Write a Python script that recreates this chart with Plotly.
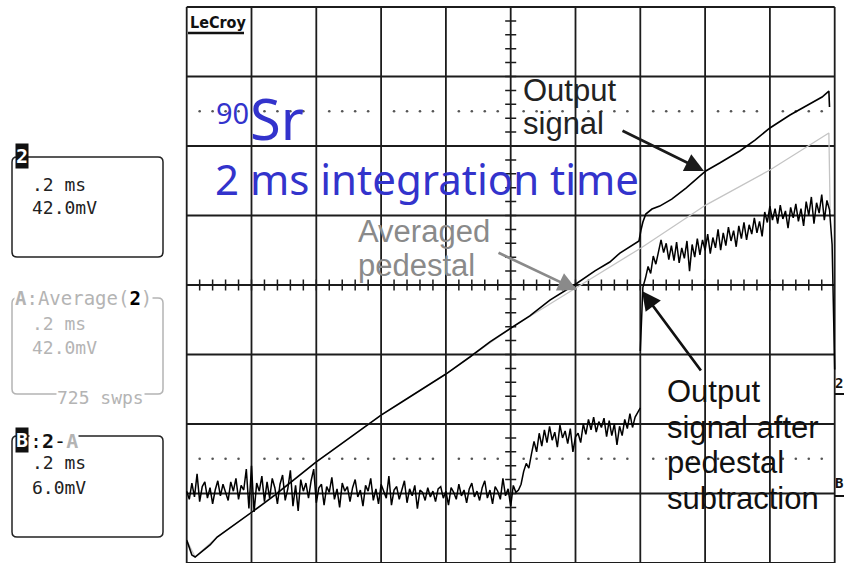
import numpy as np
import plotly.graph_objects as go

# ---------------- data ----------------
# Channel 2 "Output signal" (42 mV/div), time in ms (0.2 ms/div)
out_t = [0.000, 0.009, 0.016, 0.026, 0.041, 0.072, 0.094, 0.134, 0.165, 0.198,
         0.232, 0.273, 0.319, 0.359, 0.399, 0.443, 0.489, 0.535, 0.600, 0.659,
         0.720, 0.800, 0.874, 0.936, 1.001, 1.059, 1.121, 1.201, 1.260, 1.306,
         1.337, 1.368, 1.396, 1.402, 1.408, 1.417, 1.436, 1.460, 1.497, 1.541,
         1.602, 1.645, 1.707, 1.754, 1.800, 1.862, 1.924, 1.961, 1.982, 1.984]
out_mv = [-91.1, -95.9, -100.2, -101.4, -99.0, -94.1, -89.3, -83.8, -79.6, -74.8,
          -69.9, -63.9, -56.7, -50.6, -44.0, -37.9, -31.3, -24.6, -15.6, -8.3,
          -0.5, 9.2, 19.5, 28.6, 37.0, 44.3, 53.9, 63.6, 71.5, 76.9,
          82.3, 86.0, 89.6, 96.2, 101.1, 105.9, 108.9, 110.7, 114.9, 121.6,
          131.9, 136.7, 144.0, 150.6, 157.9, 165.7, 172.4, 176.6, 180.2, 170.6]

# Trace A: averaged pedestal, Average(2), 725 sweeps (42 mV/div)
ped_t = [0.000, 0.026, 0.094, 0.198, 0.399, 0.600, 0.800, 1.001, 1.201, 1.337,
         1.402, 1.602, 1.800, 1.982, 1.986]
ped_mv = [-91.1, -101.4, -89.3, -74.8, -44.0, -15.6, 9.2, 37.0, 61.2, 77.5,
          85.4, 111.3, 132.5, 154.9, 107.1]

# Trace B = 2 - A (6 mV/div), sampled every 0.008 ms
b_step_ms = 0.008
b_pre_start_ms = 0.0
b_pre_mv = [
    0.2, -0.5, 0.9, -0.3, 1.7, -0.7, 0.6, 1.0, -0.4, 0.5, -0.9, 0.3, 1.1, -0.2, 0.8, 0.1,
    -0.6, 1.0, 0.2, 1.3, -0.5, 0.7, 0.3, 2.1, -1.3, 2.4, -1.6, 0.9, 0.2, 1.5, -0.7, 1.0,
    -0.4, 1.3, 0.5, -0.9, 0.8, 1.6, -0.6, 0.4, 2.0, -1.1, 0.7, -1.5, 1.2, 0.2, 0.9, -0.4,
    1.1, 2.1, -0.8, 0.5, 0.8, -1.0, 0.6, 0.1, 1.4, -0.5, 0.4, -1.2, 0.9, 0.2, 0.6, -0.7,
    0.5, 1.2, -0.3, 0.3, -1.1, 0.7, 0.2, 1.3, -0.6, 0.4, -0.9, 0.8, 0.1, -0.4, 1.5, -1.0,
    0.3, 0.6, -0.5, 0.2, 1.1, -0.8, 0.4, -0.2, 0.7, -1.3, 0.3, 0.1, -0.6, 0.5, -0.3, 0.2,
    -0.7, 0.4, 0.6, -0.4, 0.2, -1.0, 0.5, 0.1, -0.5, 0.8, -0.2, 0.3, -0.8, 0.4, 0.9, -0.3,
    0.2, -0.6, 0.5, 1.1, -0.4, 0.3, -0.9, 0.6, 0.2, -0.5, 1.3, -0.2, 0.4, -1.1, 0.7, 0.1,
    0.3, 0.8, 1.9, 2.6, 2.2, 3.4, 4.5, 3.6, 5.2, 4.1, 5.5, 4.4, 5.8, 4.6, 5.3, 4.0,
    5.9, 4.8, 5.4, 4.3, 5.6, 3.6, 4.9, 5.2, 4.4, 6.0, 5.1, 6.4, 5.5, 6.6, 5.3, 6.2,
    5.7, 6.5, 4.9, 6.3, 5.0, 6.0, 4.2, 5.8, 5.0, 6.4, 5.6, 6.9, 5.7, 6.6, 7.0, 7.4]
b_post_start_ms = 1.4
b_post_mv = [
    12.3, 17.8, 18.6, 19.6, 19.0, 20.5, 19.8, 21.0, 21.9, 20.8,
    21.6, 20.2, 21.4, 20.1, 21.7, 19.9, 21.2, 20.3, 21.8, 19.2,
    21.5, 20.4, 22.0, 20.6, 21.9, 21.0, 22.4, 20.7, 22.1, 21.2,
    22.8, 21.0, 22.5, 21.4, 23.0, 21.8, 22.7, 21.3, 23.1, 22.0,
    23.4, 21.9, 23.2, 22.4, 23.8, 22.5, 23.5, 22.2, 24.3, 23.4,
    24.8, 23.6, 24.6, 23.3, 24.9, 23.7, 24.4, 22.9, 24.7, 23.8,
    25.0, 23.5, 24.6, 23.1, 25.2, 24.0, 25.6, 23.3, 25.1, 24.2,
    25.8, 23.6, 25.3, 24.5, 21.5, 10.7]

# scope settings
ms_per_div = 0.2
ch2_mv_per_div = 42.0
b_mv_per_div = 6.0

# ---------------- display geometry (styling) ----------------
CH2_OFFSET_DIV = -1.5
B_OFFSET_DIV = -3.0
X0_PX, DIVX_PX = 186.7, 64.8
Y0_PX, DIVY_PX = 285.0, 69.5
W, H = 844, 563


def px_x(px):
    return (px - X0_PX) / DIVX_PX * ms_per_div


def px_y(py):
    return (Y0_PX - py) / DIVY_PX


def ch2_y(v):
    return [a / ch2_mv_per_div + CH2_OFFSET_DIV for a in v]


def b_y(v):
    return [a / b_mv_per_div + B_OFFSET_DIV for a in v]


b_pre_t = b_pre_start_ms + np.arange(len(b_pre_mv)) * b_step_ms
b_post_t = b_post_start_ms + np.arange(len(b_post_mv)) * b_step_ms

fig = go.Figure()

# grid dots at +-2.5 div
dot_x, dot_y = [], []
for k in range(1, 50):
    if k % 5:
        for yy in (2.5, -2.5):
            dot_x.append(k * 0.04)
            dot_y.append(yy)
fig.add_trace(go.Scatter(x=dot_x, y=dot_y, mode="markers",
                         marker=dict(size=2.6, color="#555555"), hoverinfo="skip"))

fig.add_trace(go.Scatter(x=ped_t, y=ch2_y(ped_mv), mode="lines",
                         line=dict(color="#c4c4c4", width=1.3), hoverinfo="skip"))
fig.add_trace(go.Scatter(x=b_pre_t, y=b_y(b_pre_mv), mode="lines",
                         line=dict(color="#000000", width=1.5), hoverinfo="skip"))
fig.add_trace(go.Scatter(x=b_post_t, y=b_y(b_post_mv), mode="lines",
                         line=dict(color="#000000", width=1.5), hoverinfo="skip"))
fig.add_trace(go.Scatter(x=out_t, y=ch2_y(out_mv), mode="lines",
                         line=dict(color="#000000", width=1.6), hoverinfo="skip"))

shapes = []
GRID = dict(color="#1c1c1c", width=1.8)
for i in range(11):
    shapes.append(dict(type="line", x0=i * 0.2, x1=i * 0.2, y0=-4, y1=4,
                       line=GRID, layer="below"))
for j in range(-4, 5):
    shapes.append(dict(type="line", x0=0, x1=2.0, y0=j, y1=j, line=GRID, layer="below"))

# minor ticks on the centre axes
tk = 5.5
p = ""
for k in range(1, 50):
    xx = k * 0.04
    p += f"M{xx:.4f},{-tk/DIVY_PX:.4f}L{xx:.4f},{tk/DIVY_PX:.4f}"
for k in range(1, 40):
    yy = -4 + k * 0.2
    dx = tk / DIVX_PX * ms_per_div
    p += f"M{1.0-dx:.4f},{yy:.4f}L{1.0+dx:.4f},{yy:.4f}"
shapes.append(dict(type="path", path=p, line=dict(color="#1c1c1c", width=1.5), layer="below"))


def rrect(l, t, r, b, rad, color, width=1.5):
    L, R, T, B = px_x(l), px_x(r), px_y(t), px_y(b)
    rx = rad / DIVX_PX * ms_per_div
    ry = rad / DIVY_PX
    path = (f"M{L+rx},{T} L{R-rx},{T} Q{R},{T} {R},{T-ry} L{R},{B+ry} Q{R},{B} {R-rx},{B} "
            f"L{L+rx},{B} Q{L},{B} {L},{B+ry} L{L},{T-ry} Q{L},{T} {L+rx},{T} Z")
    return dict(type="path", path=path, line=dict(color=color, width=width), layer="above")


GRAY = "#b4b4b4"
shapes.append(rrect(12, 157, 163, 257, 5, "#222222"))
shapes.append(rrect(12, 298, 163, 394, 5, GRAY))
shapes.append(rrect(12, 436, 163, 537, 5, "#222222"))
# LeCroy underline
shapes.append(dict(type="line", x0=px_x(188), x1=px_x(244), y0=px_y(33), y1=px_y(33),
                   line=dict(color="#111111", width=2.5)))
# right-edge level markers underline
shapes.append(dict(type="line", x0=px_x(835), x1=px_x(845), y0=px_y(394), y1=px_y(394),
                   line=dict(color="#111111", width=2)))
shapes.append(dict(type="line", x0=px_x(835), x1=px_x(845), y0=px_y(496), y1=px_y(496),
                   line=dict(color="#111111", width=2)))

ann = []


def text(t, x, y, size, color, family, xanchor="left", yanchor="middle", **kw):
    ann.append(dict(text=t, x=px_x(x), y=px_y(y), xref="x", yref="y", showarrow=False,
                    xanchor=xanchor, yanchor=yanchor,
                    font=dict(size=size, color=color, family=family), **kw))


MONO = "DejaVu Sans Mono"
ARIAL = "Liberation Sans, Arial"
BLUE = "#3333cc"

text("<b>LeCroy</b>", 187.5, 22, 16, "#111111", "DejaVu Sans Condensed, DejaVu Sans")

# panel 1
text("<b>2</b>", 22, 156, 20, "#ffffff", MONO, xanchor="center", bgcolor="#111111", borderpad=0)
text(".2 ms", 30, 184, 18, "#222222", MONO)
text("42.0mV", 30, 207, 18, "#222222", MONO)
# panel 2
text("<b>A</b>:Average(<span style='color:#000000'><b>2</b></span>)", 14, 298, 19, GRAY,
     MONO, bgcolor="#ffffff", borderpad=0)
text(".2 ms", 30, 323, 18, GRAY, MONO)
text("42.0mV", 30, 347, 18, GRAY, MONO)
text("725 swps", 56, 397, 18, GRAY, MONO, bgcolor="#ffffff", borderpad=0)
# panel 3
text("<b>B</b>", 22, 440, 20, "#ffffff", MONO, xanchor="center", bgcolor="#111111", borderpad=0)
text(":<b>2</b>-<span style='color:#b4b4b4'><b>A</b></span>", 29, 441, 20, "#111111", MONO,
     bgcolor="#ffffff", borderpad=0)
text(".2 ms", 30, 462, 18, "#222222", MONO)
text("6.0mV", 30, 487, 18, "#222222", MONO)

# right-edge level markers (squeezed to stay inside the picture)
text("<b>2</b>", 844, 383, 14, "#111111", MONO, xanchor="right", borderpad=0)
text("<b>B</b>", 844, 483, 14, "#111111", MONO, xanchor="right", borderpad=0)

# blue title
text("90", 214, 112, 29, BLUE, "Noto Sans")
text("Sr", 248, 118, 56, BLUE, "Noto Sans")
text("2 ms integration time", 213, 178, 42, BLUE, "Noto Sans")

# labels
text("Averaged", 356, 231, 31, "#8a8a8a", ARIAL)
text("pedestal", 356, 265, 31, "#8a8a8a", ARIAL)
text("Output", 521, 90, 31, "#222222", ARIAL)
text("signal", 521, 123, 31, "#222222", ARIAL)
text("Output", 665, 391, 31, "#111111", ARIAL)
text("signal after", 665, 427, 31, "#111111", ARIAL)
text("pedestal", 665, 462, 31, "#111111", ARIAL)
text("subtraction", 665, 498, 31, "#111111", ARIAL)


def arrow(tail, tip, color):
    ann.append(dict(text="", x=px_x(tip[0]), y=px_y(tip[1]), ax=px_x(tail[0]), ay=px_y(tail[1]),
                    xref="x", yref="y", axref="x", ayref="y", showarrow=True,
                    arrowhead=2, arrowsize=1.4, arrowwidth=2.7, arrowcolor=color))


arrow((621, 130), (704, 171), "#1a1a1a")
arrow((497, 252), (577, 290), "#8a8a8a")
arrow((702, 372), (642, 291), "#111111")

fig.update_layout(
    width=W, height=H, autosize=False,
    margin=dict(l=0, r=0, t=0, b=0, pad=0),
    paper_bgcolor="#ffffff", plot_bgcolor="#ffffff",
    showlegend=False,
    xaxis=dict(range=[px_x(0), px_x(W)], visible=False, fixedrange=True),
    yaxis=dict(range=[px_y(H), px_y(0)], visible=False, fixedrange=True),
    shapes=shapes, annotations=ann,
)

fig.write_html("out.html", config={"displayModeBar": False},
               post_script="document.body.style.margin='0';")
